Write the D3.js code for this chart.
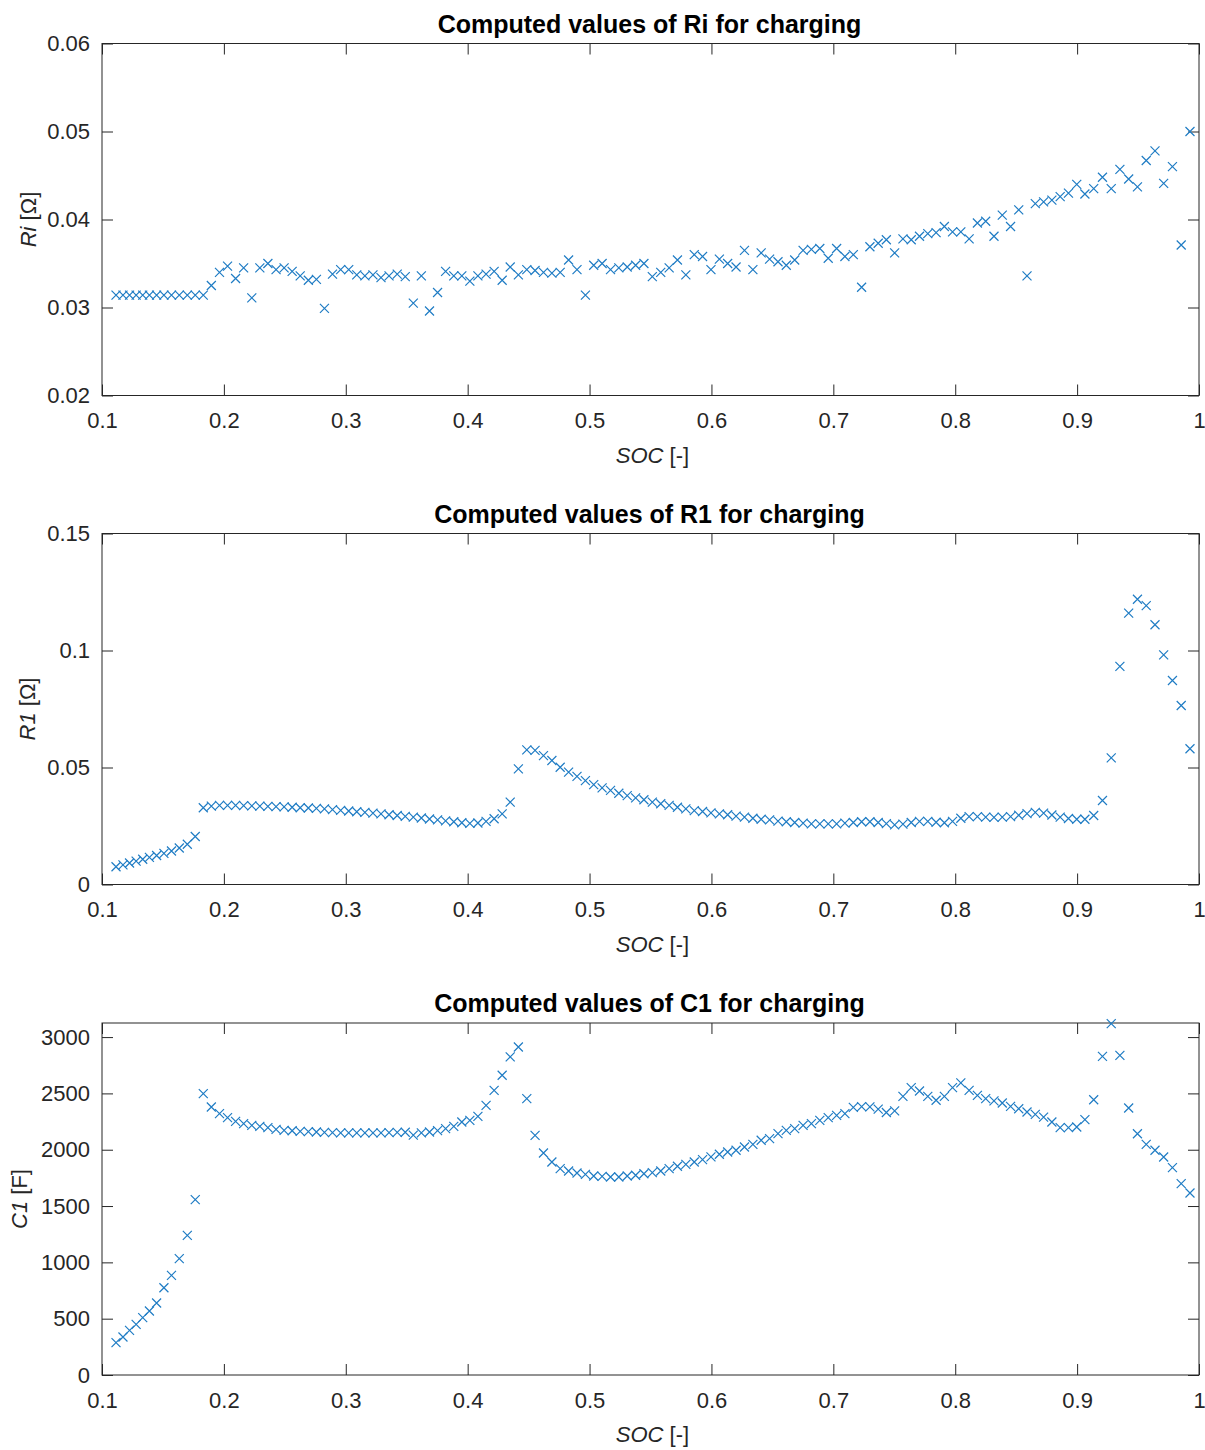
<!DOCTYPE html>
<html><head><meta charset="utf-8">
<script src="https://cdn.jsdelivr.net/npm/d3@7"></script>
<style>
body{margin:0;background:#fff}
svg{display:block}
text{font-family:"Liberation Sans",Arial,Helvetica,sans-serif}
</style>
</head><body>
<svg id="c" width="1205" height="1450"></svg>
<script>
const soc = [
0.1115,0.1172,0.1226,0.1280,0.1334,0.1389,0.1448,0.1508,0.1570,0.1634,
0.1700,0.1765,0.1831,0.1897,0.1964,0.2030,0.2096,0.2162,0.2229,0.2295,
0.2361,0.2428,0.2494,0.2560,0.2626,0.2693,0.2759,0.2825,0.2891,0.2958,
0.3024,0.3090,0.3157,0.3223,0.3289,0.3355,0.3422,0.3488,0.3554,0.3620,
0.3687,0.3753,0.3819,0.3886,0.3952,0.4018,0.4084,0.4151,0.4217,0.4283,
0.4349,0.4416,0.4485,0.4553,0.4622,0.4691,0.4759,0.4828,0.4897,0.4966,
0.5034,0.5103,0.5172,0.5240,0.5309,0.5378,0.5446,0.5515,0.5584,0.5653,
0.5721,0.5790,0.5859,0.5927,0.5996,0.6065,0.6133,0.6202,0.6271,0.6340,
0.6408,0.6477,0.6546,0.6614,0.6683,0.6752,0.6820,0.6889,0.6958,0.7027,
0.7095,0.7164,0.7232,0.7300,0.7368,0.7435,0.7503,0.7571,0.7639,0.7707,
0.7775,0.7843,0.7911,0.7978,0.8046,0.8114,0.8182,0.8250,0.8318,0.8386,
0.8454,0.8521,0.8589,0.8657,0.8725,0.8793,0.8861,0.8929,0.8997,0.9064,
0.9136,0.9208,0.9280,0.9351,0.9423,0.9495,0.9567,0.9639,0.9710,0.9782,
0.9854,0.9926];

const ri = [
0.0314,0.0314,0.0314,0.0314,0.0314,0.0314,0.0314,0.0314,0.0314,0.0314,
0.0314,0.0314,0.0314,0.0325,0.0340,0.0347,0.0333,0.0345,0.0311,0.0345,
0.0350,0.0343,0.0345,0.0341,0.0336,0.0331,0.0332,0.0299,0.0338,0.0343,
0.0343,0.0337,0.0336,0.0337,0.0334,0.0336,0.0338,0.0335,0.0305,0.0336,
0.0296,0.0317,0.0341,0.0336,0.0336,0.0330,0.0336,0.0338,0.0341,0.0331,
0.0346,0.0337,0.0343,0.0342,0.0340,0.0339,0.0340,0.0354,0.0343,0.0314,
0.0348,0.0350,0.0343,0.0345,0.0346,0.0348,0.0350,0.0335,0.0340,0.0345,
0.0354,0.0337,0.0360,0.0358,0.0343,0.0355,0.0350,0.0346,0.0365,0.0343,
0.0362,0.0355,0.0352,0.0348,0.0354,0.0365,0.0366,0.0367,0.0356,0.0367,
0.0358,0.0360,0.0323,0.0369,0.0373,0.0377,0.0362,0.0378,0.0377,0.0381,
0.0384,0.0385,0.0392,0.0386,0.0386,0.0378,0.0396,0.0398,0.0381,0.0405,
0.0392,0.0411,0.0336,0.0418,0.0420,0.0422,0.0426,0.0430,0.0440,0.0429,
0.0435,0.0448,0.0435,0.0457,0.0446,0.0437,0.0467,0.0478,0.0441,0.0460,
0.0371,0.0500];

const r1 = [
0.0076,0.0084,0.0092,0.0100,0.0108,0.0116,0.0124,0.0133,0.0143,0.0156,
0.0172,0.0205,0.0328,0.0335,0.0338,0.0338,0.0338,0.0337,0.0336,0.0335,
0.0334,0.0333,0.0332,0.0330,0.0328,0.0327,0.0325,0.0323,0.0320,0.0317,
0.0314,0.0311,0.0308,0.0305,0.0302,0.0298,0.0295,0.0291,0.0288,0.0284,
0.0280,0.0276,0.0272,0.0268,0.0264,0.0261,0.0263,0.0270,0.0281,0.0302,
0.0352,0.0494,0.0575,0.0573,0.0551,0.0530,0.0501,0.0480,0.0462,0.0444,
0.0427,0.0413,0.0402,0.0390,0.0380,0.0370,0.0362,0.0352,0.0345,0.0338,
0.0330,0.0323,0.0316,0.0312,0.0306,0.0302,0.0298,0.0292,0.0288,0.0283,
0.0279,0.0276,0.0271,0.0268,0.0265,0.0262,0.0259,0.0259,0.0259,0.0259,
0.0262,0.0265,0.0268,0.0268,0.0265,0.0260,0.0255,0.0258,0.0265,0.0270,
0.0270,0.0266,0.0264,0.0270,0.0283,0.0290,0.0290,0.0288,0.0287,0.0288,
0.0290,0.0296,0.0303,0.0308,0.0305,0.0297,0.0288,0.0282,0.0279,0.0279,
0.0295,0.0359,0.0541,0.0932,0.1160,0.1219,0.1192,0.1110,0.0981,0.0872,
0.0765,0.0580];

const c1 = [
287,337,396,449,509,568,639,775,885,1033,
1240,1557,2498,2379,2320,2285,2252,2231,2216,2207,
2196,2181,2172,2168,2163,2160,2157,2154,2152,2150,
2150,2150,2150,2150,2150,2152,2154,2155,2130,2150,
2157,2170,2187,2207,2246,2261,2296,2394,2527,2661,
2824,2912,2453,2128,1971,1891,1832,1811,1793,1781,
1767,1764,1758,1758,1767,1773,1787,1796,1811,1832,
1853,1870,1891,1912,1936,1960,1980,1995,2024,2048,
2084,2098,2143,2172,2187,2216,2231,2261,2285,2305,
2320,2376,2383,2380,2360,2330,2345,2474,2551,2521,
2474,2439,2474,2551,2593,2527,2483,2453,2433,2415,
2385,2364,2335,2314,2290,2246,2196,2196,2202,2267,
2444,2829,3120,2838,2370,2142,2048,1995,1935,1841,
1699,1616];

const xTicks = [0.1,0.2,0.3,0.4,0.5,0.6,0.7,0.8,0.9,1];
const xTickLabels = ["0.1","0.2","0.3","0.4","0.5","0.6","0.7","0.8","0.9","1"];
const riTicks = [0.02,0.03,0.04,0.05,0.06];
const riTickLabels = ["0.02","0.03","0.04","0.05","0.06"];
const r1Ticks = [0,0.05,0.1,0.15];
const r1TickLabels = ["0","0.05","0.1","0.15"];
const c1Ticks = [0,500,1000,1500,2000,2500,3000];
const c1TickLabels = ["0","500","1000","1500","2000","2500","3000"];
const titles = ["Computed values of Ri for charging","Computed values of R1 for charging","Computed values of C1 for charging"];
const yNames = ["Ri","R1","C1"];
const yUnits = [" [\u03A9]"," [\u03A9]"," [F]"];
const xName = "SOC";
const xUnit = " [-]";

const svg = d3.select("#c");
const L = 102, R = 1199;
const axisColor = "#262626";
const markColor = "#1f7cc4";
const x = d3.scaleLinear().domain([0.1, 1]).range([L, R]);

const panels = [
  {top: 43.5, bottom: 395.5, vals: ri, dom: [0.02, 0.06], ticks: riTicks, labels: riTickLabels, ylx: 36},
  {top: 533.5, bottom: 884.5, vals: r1, dom: [0, 0.15], ticks: r1Ticks, labels: r1TickLabels, ylx: 35},
  {top: 1023, bottom: 1375, vals: c1, dom: [0, 3125], ticks: c1Ticks, labels: c1TickLabels, ylx: 27}
];

const cross = "M-4.5,-4.5L4.5,4.5M-4.5,4.5L4.5,-4.5";

panels.forEach((p, k) => {
  const y = d3.scaleLinear().domain(p.dom).range([p.bottom, p.top]);
  const g = svg.append("g");

  const styleAxis = (ax) => {
    ax.select(".domain").remove();
    ax.selectAll(".tick line").attr("stroke", axisColor).attr("stroke-width", 1);
    ax.selectAll(".tick text").attr("fill", axisColor).style("font-size", "22px");
  };

  g.append("g").attr("transform", `translate(0,${p.bottom})`)
    .call(d3.axisBottom(x).tickValues(xTicks).tickFormat((d, i) => xTickLabels[i]).tickSize(-11).tickSizeOuter(0).tickPadding(17))
    .call(styleAxis);
  g.append("g").attr("transform", `translate(0,${p.top})`)
    .call(d3.axisTop(x).tickValues(xTicks).tickFormat("").tickSize(-11).tickSizeOuter(0))
    .call(styleAxis);
  g.append("g").attr("transform", `translate(${L},0)`)
    .call(d3.axisLeft(y).tickValues(p.ticks).tickFormat((d, i) => p.labels[i]).tickSize(-11).tickSizeOuter(0).tickPadding(12))
    .call(styleAxis);
  g.append("g").attr("transform", `translate(${R},0)`)
    .call(d3.axisRight(y).tickValues(p.ticks).tickFormat("").tickSize(-11).tickSizeOuter(0))
    .call(styleAxis);

  g.append("rect").attr("x", L).attr("y", p.top).attr("width", R - L).attr("height", p.bottom - p.top)
    .attr("fill", "none").attr("stroke", axisColor).attr("stroke-width", 1);

  g.append("g").selectAll("path").data(soc.map((s, i) => [s, p.vals[i]])).join("path")
    .attr("d", cross)
    .attr("transform", d => `translate(${x(d[0])},${y(d[1])})`)
    .attr("fill", "none").attr("stroke", markColor).attr("stroke-width", 1.2);

  g.append("text").attr("x", (L + R) / 2 - 1).attr("y", p.top - 11)
    .attr("text-anchor", "middle").attr("fill", "#000")
    .style("font-size", "25px").style("font-weight", "bold").text(titles[k]);

  const xl = g.append("text").attr("x", (L + R) / 2 + 2).attr("y", p.bottom + 67)
    .attr("text-anchor", "middle").attr("fill", axisColor).style("font-size", "22px");
  xl.append("tspan").style("font-style", "italic").text(xName);
  xl.append("tspan").text(xUnit);

  const yl = g.append("text").attr("transform", `translate(${p.ylx},${(p.top + p.bottom) / 2}) rotate(-90)`)
    .attr("text-anchor", "middle").attr("fill", axisColor).style("font-size", "22px");
  yl.append("tspan").style("font-style", "italic").text(yNames[k]);
  yl.append("tspan").text(yUnits[k]);
});
</script>
</body></html>
